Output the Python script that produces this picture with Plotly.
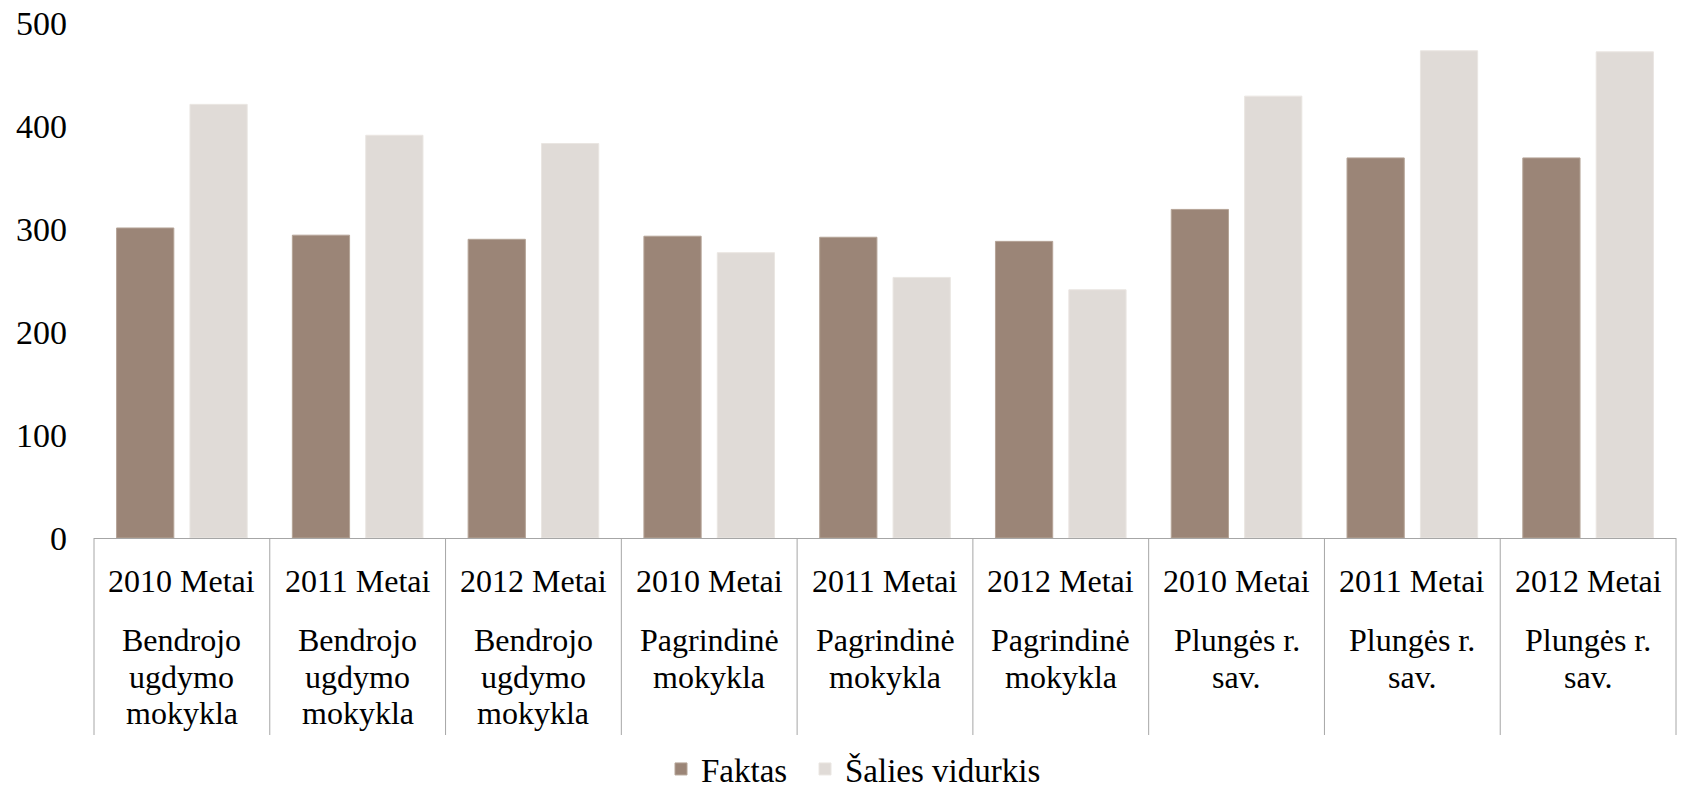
import plotly.graph_objects as go

# ---- data ----
years = ["2010 Metai", "2011 Metai", "2012 Metai",
         "2010 Metai", "2011 Metai", "2012 Metai",
         "2010 Metai", "2011 Metai", "2012 Metai"]
group_lines = [
    ["Bendrojo", "ugdymo", "mokykla"],
    ["Bendrojo", "ugdymo", "mokykla"],
    ["Bendrojo", "ugdymo", "mokykla"],
    ["Pagrindinė", "mokykla"],
    ["Pagrindinė", "mokykla"],
    ["Pagrindinė", "mokykla"],
    ["Plungės r.", "sav."],
    ["Plungės r.", "sav."],
    ["Plungės r.", "sav."],
]
faktas = [301, 294, 290, 293, 292, 288, 319, 369, 369]
salies = [421, 391, 383, 277, 253, 241, 429, 473, 472]
series_names = ["Faktas", "Šalies vidurkis"]
y_ticks = [0, 100, 200, 300, 400, 500]

categories = [f"{y} / {' '.join(g)}" for y, g in zip(years, group_lines)]

FONT = "Liberation Serif"
FS = 32
C_FAKT = "#9B8577"
C_SAL = "#E0DBD7"
GRID = "#A6A6A6"

W, H = 1681, 788
ML, MR, MT, MB = 94, 5, 23, 250
plot_h = H - MT - MB
plot_w = W - ML - MR

fig = go.Figure()
fig.add_trace(go.Bar(x=categories, y=faktas, name=series_names[0], legend="legend",
                     showlegend=True,
                     marker=dict(color=C_FAKT, line=dict(color="#B5A497", width=1))))
fig.add_trace(go.Bar(x=categories, y=salies, name=series_names[1], legend="legend2",
                     showlegend=True,
                     marker=dict(color=C_SAL, line=dict(color="#EAE6E2", width=1))))

annotations = []
shapes = []
for i, cat in enumerate(categories):
    annotations.append(dict(x=cat, xref="x", y=0, yref="paper", yanchor="middle",
                            yshift=-43, text=years[i], showarrow=False,
                            font=dict(family=FONT, size=FS, color="#000")))
    for j, line in enumerate(group_lines[i]):
        annotations.append(dict(x=cat, xref="x", y=0, yref="paper", yanchor="middle",
                                yshift=-102 - 36.5 * j, text=line, showarrow=False,
                                font=dict(family=FONT, size=FS, color="#000")))
for k in range(len(categories) + 1):
    xp = k / len(categories)
    shapes.append(dict(type="line", xref="paper", yref="paper", x0=xp, x1=xp,
                       y0=0, y1=-197 / plot_h, line=dict(color=GRID, width=1)))

leg_y = -(769 - (H - MB)) / plot_h
leg_font = dict(family=FONT, size=33, color="#000")

fig.update_layout(
    width=W, height=H, showlegend=True,
    margin=dict(l=ML, r=MR, t=MT, b=MB, autoexpand=False),
    paper_bgcolor="white", plot_bgcolor="white",
    barmode="group", bargap=0.165, bargroupgap=0.22,
    font=dict(family=FONT, size=FS, color="#000"),
    xaxis=dict(showticklabels=False, showgrid=False, zeroline=False,
               showline=True, linecolor=GRID, linewidth=1, ticks="",
               range=[-0.5, len(categories) - 0.5], automargin=False),
    yaxis=dict(range=[0, 500], tickvals=y_ticks, showgrid=False, zeroline=False,
               showline=False, ticks="", ticklabelstandoff=26, automargin=False,
               tickfont=dict(family=FONT, size=34, color="#000")),
    legend=dict(orientation="h", x=(661 - ML) / plot_w, xanchor="left",
                y=leg_y, yanchor="middle", font=leg_font,
                bgcolor="rgba(0,0,0,0)"),
    legend2=dict(orientation="h", x=(805 - ML) / plot_w, xanchor="left",
                 y=leg_y, yanchor="middle", font=leg_font,
                 bgcolor="rgba(0,0,0,0)"),
    annotations=annotations, shapes=shapes,
)

fig.write_html("out.html", config={"displayModeBar": False},
               post_script="document.body.style.margin='0';")
